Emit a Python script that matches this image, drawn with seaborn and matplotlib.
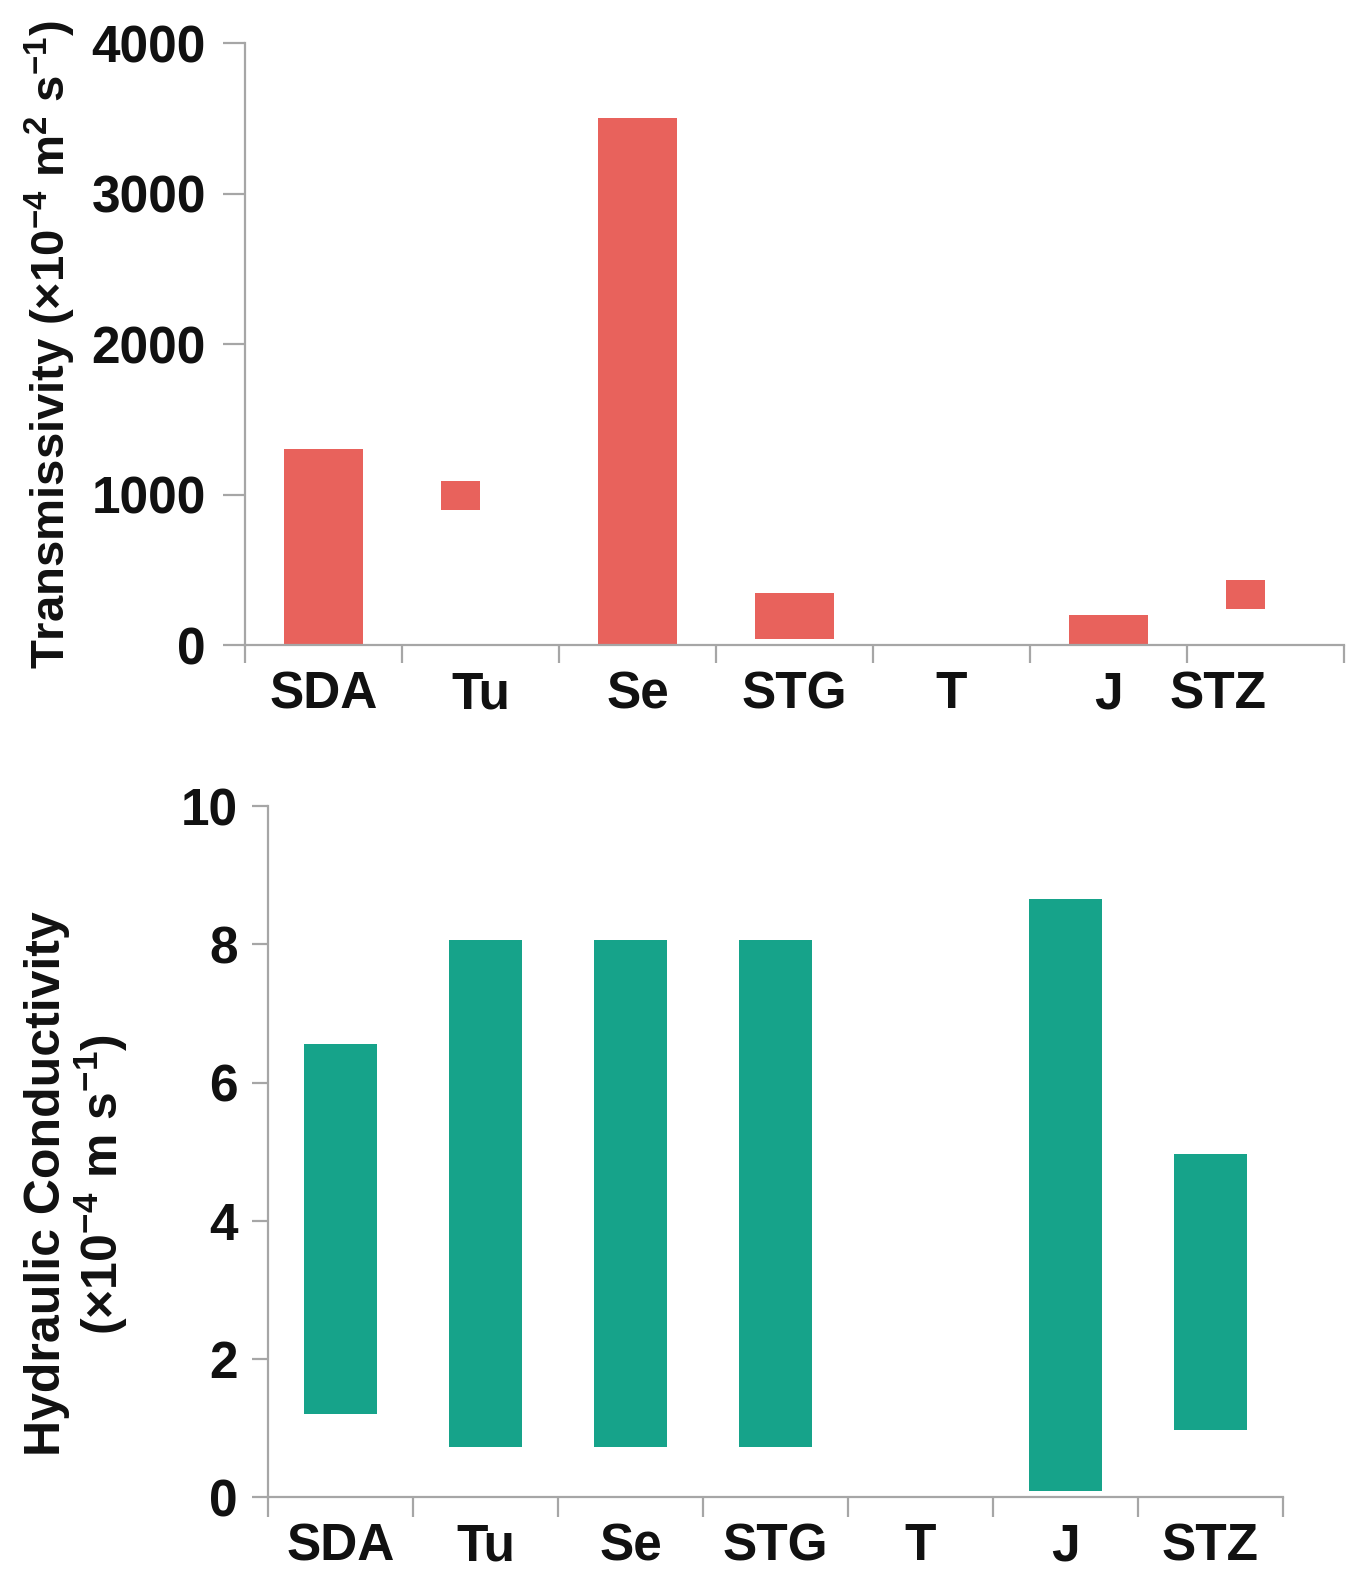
import numpy as np
import pandas as pd
import matplotlib
matplotlib.use("Agg")
import matplotlib.pyplot as plt
from matplotlib.transforms import ScaledTranslation
import seaborn as sns

# ---------------- data ----------------
CATEGORIES = ["SDA", "Tu", "Se", "STG", "T", "J", "STZ"]

# Transmissivity ranges (x10^-4 m2 s-1); two dodged series, NaN = no bar
TRANS_LOW = [0, 900, 0, 40, np.nan, 0, 240]
TRANS_HIGH_S1 = [1300, 1090, 3500, 345, np.nan, 200, 435]
TRANS_HIGH_S2 = [1300, np.nan, 3500, 345, np.nan, 200, np.nan]
SERIES = ["S1", "S2"]

# Hydraulic conductivity ranges (x10^-4 m s-1)
COND_LOW = [1.2, 0.72, 0.72, 0.72, np.nan, 0.09, 0.97]
COND_HIGH = [6.56, 8.06, 8.06, 8.06, np.nan, 8.66, 4.96]

TRANS_TICKS = [0, 1000, 2000, 3000, 4000]
COND_TICKS = [0, 2, 4, 6, 8, 10]

# ---------------- style ----------------
RED = "#E8625C"
GREEN = "#16A38A"
SPINE = "#A6A6A6"

sns.set_theme(style="ticks")
plt.rcParams["font.family"] = ["Liberation Sans", "DejaVu Sans"]
plt.rcParams["font.weight"] = "bold"
plt.rcParams["axes.labelweight"] = "bold"
plt.rcParams["mathtext.default"] = "regular"

fig = plt.figure(figsize=(13.54, 15.81), dpi=100)
ax1 = fig.add_axes([0.1809, 0.592, 0.8117, 0.3808])
ax2 = fig.add_axes([0.1979, 0.0531, 0.7496, 0.437])

# ---- top: transmissivity (two dodged series) ----
low = np.nan_to_num(np.array(TRANS_LOW, dtype=float))
rows = []
for s, highs in zip(SERIES, [TRANS_HIGH_S1, TRANS_HIGH_S2]):
    h = np.array(highs, dtype=float)
    heights = np.where(np.isnan(h), 0.0, h - low)
    for c, v in zip(CATEGORIES, heights):
        rows.append({"site": c, "series": s, "height": v})
df_t = pd.DataFrame(rows)

sns.barplot(data=df_t, x="site", y="height", hue="series", order=CATEGORIES,
            hue_order=SERIES, palette=[RED, RED], saturation=1, dodge=True,
            width=0.5, errorbar=None, linewidth=0, legend=False, bottom=low, ax=ax1)

# ---- bottom: hydraulic conductivity ----
clow = np.nan_to_num(np.array(COND_LOW, dtype=float))
chigh = np.array(COND_HIGH, dtype=float)
cheight = np.where(np.isnan(chigh), 0.0, chigh - clow)
df_c = pd.DataFrame({"site": CATEGORIES, "height": cheight})
sns.barplot(data=df_c, x="site", y="height", order=CATEGORIES, color=GREEN,
            saturation=1, width=0.5, errorbar=None, linewidth=0, bottom=clow, ax=ax2)

def style_axis(ax, yticks, ylim, ytick_len, xtick_len, ypad, xpad):
    ax.set_xlim(-0.5, len(CATEGORIES) - 0.5)
    ax.set_ylim(*ylim)
    ax.set_yticks(yticks)
    ax.set_yticklabels([str(t) for t in yticks])
    ax.set_xticks(range(len(CATEGORIES)))
    ax.set_xticklabels(CATEGORIES)
    ax.set_xticks(np.arange(-0.5, len(CATEGORIES), 1.0), minor=True)
    ax.set_xlabel("")
    ax.set_ylabel("")
    for side in ["top", "right"]:
        ax.spines[side].set_visible(False)
    for side in ["left", "bottom"]:
        ax.spines[side].set_color(SPINE)
        ax.spines[side].set_linewidth(1.6)
    ax.tick_params(axis="y", which="major", length=ytick_len, width=1.6,
                   color=SPINE, labelsize=37, pad=ypad, direction="out")
    ax.tick_params(axis="x", which="major", length=0, labelsize=37, pad=xpad)
    ax.tick_params(axis="x", which="minor", length=xtick_len, width=1.6,
                   color=SPINE, direction="out")
    for lab in ax.get_xticklabels() + ax.get_yticklabels():
        lab.set_fontweight("bold")
        lab.set_color("#111111")
    ax.set_facecolor("white")

style_axis(ax1, TRANS_TICKS, (0, 4000), 16, 13, 12, 18)
style_axis(ax2, COND_TICKS, (0, 10), 11.5, 14.5, 10, 18)

# the top panel's STZ label sits left of its slot in the reference
lab = ax1.get_xticklabels()[6]
lab.set_transform(lab.get_transform() + ScaledTranslation(-0.47, 0, fig.dpi_scale_trans))

fig.text(0.037, 0.782, r"Transmissivity (×10$^{-4}$ m$^{2}$ s$^{-1}$)",
         rotation=90, ha="center", va="center", fontsize=34, fontweight="bold",
         color="#111111")
fig.text(0.057, 0.251, "Hydraulic Conductivity\n" + r"(×10$^{-4}$ m s$^{-1}$)",
         rotation=90, ha="center", va="center", fontsize=36, fontweight="bold",
         multialignment="center", linespacing=1.05, color="#111111")

fig.savefig("out.png", dpi=100, facecolor="white")
